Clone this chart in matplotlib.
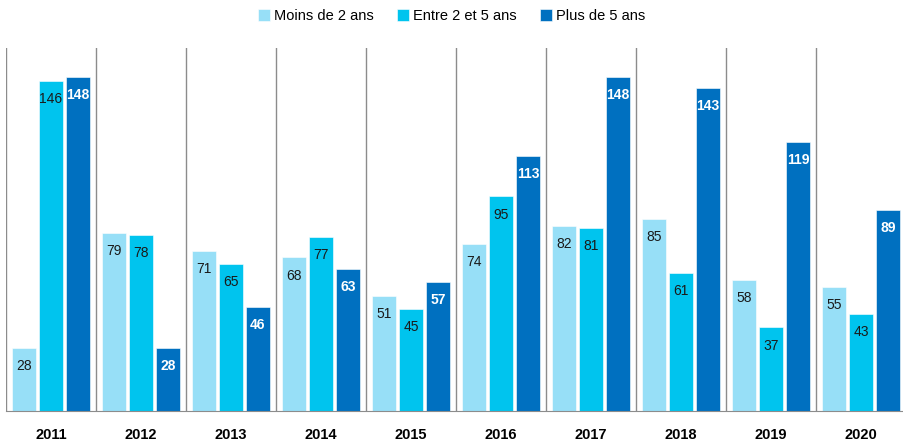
import matplotlib.pyplot as plt
import numpy as np

plt.rcParams['font.family'] = ['Liberation Sans', 'DejaVu Sans']

years = ['2011', '2012', '2013', '2014', '2015', '2016', '2017', '2018', '2019', '2020']
series_names = ['Moins de 2 ans', 'Entre 2 et 5 ans', 'Plus de 5 ans']
moins_2 = [28, 79, 71, 68, 51, 74, 82, 85, 58, 55]
entre_2_5 = [146, 78, 65, 77, 45, 95, 81, 61, 37, 43]
plus_5 = [148, 28, 46, 63, 57, 113, 148, 143, 119, 89]

colors = ['#97dff7', '#00c4ee', '#0070c0']
label_colors = ['#1a1a1a', '#1a1a1a', 'white']
label_weights = ['normal', 'normal', 'bold']

fig = plt.figure(figsize=(9.04, 4.46), dpi=100)
ax = fig.add_axes([6 / 904, 35 / 446, 900 / 904, 363 / 446])

x = np.arange(len(years))
width = 0.27
offsets = [-0.3, 0.0, 0.3]

for vals, name, off, col, lc, lw in zip([moins_2, entre_2_5, plus_5], series_names, offsets,
                                         colors, label_colors, label_weights):
    bars = ax.bar(x + off, vals, width, color=col, label=name, edgecolor='white', linewidth=0.4)
    for b, v in zip(bars, vals):
        ax.annotate(str(v), (b.get_x() + b.get_width() / 2, v), xytext=(0, -8),
                    textcoords='offset points', ha='center', va='top',
                    fontsize=10, color=lc, fontweight=lw)

# group separators
for s in np.arange(-0.5, len(years), 1.0):
    ax.axvline(s, color='#8c8c8c', linewidth=1)

ax.set_xlim(-0.5, len(years) - 0.5)
ax.set_ylim(0, 160.7)
ax.set_xticks(x)
ax.set_xticklabels(years, fontweight='bold', fontsize=10.5)
ax.tick_params(axis='x', length=0, pad=12.5)
ax.set_yticks([])
for side in ['top', 'right', 'left']:
    ax.spines[side].set_visible(False)
ax.spines['bottom'].set_color('#8c8c8c')

fig.legend(loc='center', bbox_to_anchor=(0.5, 1 - 16 / 446), ncol=3, frameon=False,
           fontsize=10.5, handlelength=0.8, handleheight=0.8, handletextpad=0.3,
           columnspacing=1.6)

fig.savefig('out.png', dpi=100)
